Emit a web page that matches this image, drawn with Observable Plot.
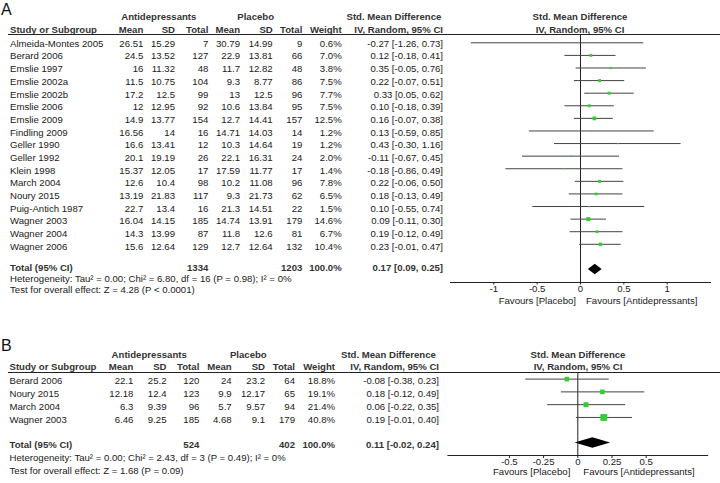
<!DOCTYPE html>
<html><head><meta charset="utf-8">
<script src="https://cdn.jsdelivr.net/npm/d3@7"></script>
<script src="https://cdn.jsdelivr.net/npm/@observablehq/plot@0.6"></script>
<style>
body{margin:0;background:#fff;}
#root{position:relative;width:720px;height:483px;overflow:hidden;font-family:"Liberation Sans",Arial,sans-serif;font-size:9.6px;color:#1a1a1a;background:#fff;}
.c{position:absolute;height:12px;line-height:12px;white-space:nowrap;}
.b{font-weight:bold;color:#333;}
.hline{position:absolute;height:1px;background:#222;}
.box{position:absolute;}
</style></head><body><div id="root"></div>
<script>
// ---------- Panel A data ----------
const studiesA = ["Almeida-Montes 2005","Berard 2006","Emslie 1997","Emslie 2002a","Emslie 2002b","Emslie 2006","Emslie 2009","Findling 2009","Geller 1990","Geller 1992","Klein 1998","March 2004","Noury 2015","Puig-Antich 1987","Wagner 2003","Wagner 2004","Wagner 2006"];
const antiMeanA = [26.51,24.5,16,11.5,17.2,12,14.9,16.56,16.6,20.1,15.37,12.6,13.19,22.7,16.04,14.3,15.6];
const antiSdA   = [15.29,13.52,11.32,10.75,12.5,12.95,13.77,14,13.41,19.19,12.05,10.4,21.83,13.4,14.15,13.99,12.64];
const antiNA    = [7,127,48,104,99,92,154,16,12,26,17,98,117,16,185,87,129];
const plaMeanA  = [30.79,22.9,11.7,9.3,13,10.6,12.7,14.71,10.3,22.1,17.59,10.2,9.3,21.3,14.74,11.8,12.7];
const plaSdA    = [14.99,13.81,12.82,8.77,12.5,13.84,14.41,14.03,14.64,16.31,11.77,11.08,21.73,14.51,13.91,12.6,12.64];
const plaNA     = [9,66,48,86,96,95,157,14,19,24,17,96,62,22,179,81,132];
const weightA   = [0.6,7.0,3.8,7.5,7.7,7.5,12.5,1.2,1.2,2.0,1.4,7.8,6.5,1.5,14.6,6.7,10.4];
const smdA      = [-0.27,0.12,0.35,0.22,0.33,0.10,0.16,0.13,0.43,-0.11,-0.18,0.22,0.18,0.10,0.09,0.19,0.23];
const loA       = [-1.26,-0.18,-0.05,-0.07,0.05,-0.18,-0.07,-0.59,-0.30,-0.67,-0.86,-0.06,-0.13,-0.55,-0.11,-0.12,-0.01];
const hiA       = [0.73,0.41,0.76,0.51,0.62,0.39,0.38,0.85,1.16,0.45,0.49,0.50,0.49,0.74,0.30,0.49,0.47];
const totalA    = [1334, 1203, 100.0, 0.17, 0.09, 0.25]; // nAnti, nPla, weight, smd, lo, hi
const hetA  = "Heterogeneity: Tau\u00B2 = 0.00; Chi\u00B2 = 6.80, df = 16 (P = 0.98); I\u00B2 = 0%";
const testA = "Test for overall effect: Z = 4.28 (P < 0.0001)";
const ticksA = [-1,-0.5,0,0.5,1];
const xDomainA = [-1.5,1.5];

// ---------- Panel B data ----------
const studiesB = ["Berard 2006","Noury 2015","March 2004","Wagner 2003"];
const antiMeanB = [22.1,12.18,6.3,6.46];
const antiSdB   = [25.2,12.4,9.39,9.25];
const antiNB    = [120,123,96,185];
const plaMeanB  = [24,9.9,5.7,4.68];
const plaSdB    = [23.2,12.17,9.57,9.1];
const plaNB     = [64,65,94,179];
const weightB   = [18.8,19.1,21.4,40.8];
const smdB      = [-0.08,0.18,0.06,0.19];
const loB       = [-0.38,-0.12,-0.22,-0.01];
const hiB       = [0.23,0.49,0.35,0.40];
const totalB    = [524, 402, 100.0, 0.11, -0.02, 0.24];
const hetB  = "Heterogeneity: Tau\u00B2 = 0.00; Chi\u00B2 = 2.43, df = 3 (P = 0.49); I\u00B2 = 0%";
const testB = "Test for overall effect: Z = 1.68 (P = 0.09)";
const ticksB = [-0.5,-0.25,0,0.25,0.5];
const xDomainB = [-0.95,0.95];

const headTop = ["Antidepressants","Placebo","Std. Mean Difference","Std. Mean Difference"];
const headCols = ["Study or Subgroup","Mean","SD","Total","Mean","SD","Total","Weight","IV, Random, 95% CI","IV, Random, 95% CI"];
const favours = ["Favours [Placebo]","Favours [Antidepressants]"];

// ---------- helpers ----------
const root = document.getElementById("root");
function cell(text, x, y, align, bold, size) {
  const d = document.createElement("div");
  d.className = "c" + (bold ? " b" : "");
  d.textContent = text;
  const w = 320;
  const left = align === "right" ? x - w : align === "center" ? x - w/2 : x;
  d.style.left = left + "px"; d.style.width = w + "px"; d.style.textAlign = align;
  if (size) { d.style.fontSize = size + "px"; d.style.height = "20px"; d.style.lineHeight = "20px"; d.style.top = (y - 10) + "px"; d.style.fontWeight = "normal"; d.style.color = "#111"; }
  else d.style.top = (y - 6) + "px";
  root.appendChild(d);
}
function hline(x1, x2, y) {
  const d = document.createElement("div");
  d.className = "hline";
  d.style.left = x1 + "px"; d.style.width = (x2 - x1) + "px"; d.style.top = y + "px";
  root.appendChild(d);
}
const fmtCI = (s, l, h) => `${s.toFixed(2)} [${l.toFixed(2)}, ${h.toFixed(2)}]`;

function drawPanel(P) {
  const L = P.layout;
  cell(P.label, L.labelX, L.labelY, "left", false, 16);
  cell(headTop[0], L.antiC, L.h1, "center", true);
  cell(headTop[1], L.plaC, L.h1, "center", true);
  cell(headTop[2], L.smdL, L.h1, "left", true);
  cell(headTop[3], L.forestC, L.h1, "center", true);
  cell(headCols[0], L.studyX, L.h2, "left", true);
  for (let k = 0; k < 7; k++) cell(headCols[k+1], L.cols[k], L.h2, "right", true);
  cell(headCols[8], L.smdR, L.h2, "right", true);
  cell(headCols[9], L.forestC, L.h2, "center", true);
  hline(L.lineX1, 720, L.uline);
  P.studies.forEach((s, i) => {
    const y = L.row0 + i * L.rowStep;
    const vals = [P.aM[i], P.aS[i], P.aN[i], P.pM[i], P.pS[i], P.pN[i], P.w[i].toFixed(1) + "%"];
    cell(s, L.studyX, y, "left", false);
    vals.forEach((v, k) => cell(String(v), L.cols[k], y, "right", false));
    cell(fmtCI(P.smd[i], P.lo[i], P.hi[i]), L.smdR, y, "right", false);
  });
  const T = P.total;
  cell("Total (95% CI)", L.studyX, L.totY, "left", true);
  cell(String(T[0]), L.cols[2], L.totY, "right", true);
  cell(String(T[1]), L.cols[5], L.totY, "right", true);
  cell(T[2].toFixed(1) + "%", L.cols[6], L.totY, "right", true);
  cell(fmtCI(T[3], T[4], T[5]), L.smdR, L.totY, "right", true);
  cell(P.het, L.studyX, L.hetY, "left", false);
  cell(P.test, L.studyX, L.testY, "left", false);

  // forest plot
  const F = P.forest;
  const rows = P.studies.map((s, i) => ({i, smd: P.smd[i], lo: P.lo[i], hi: P.hi[i], w: P.w[i]}));
  const ti = P.studies.length + 1;
  const h = 0.42;
  const diamond = [
    {x: T[4], y1: ti, y2: ti},
    {x: T[3], y1: ti - h, y2: ti + h},
    {x: T[5], y1: ti, y2: ti}
  ];
  const plot = Plot.plot({
    width: F.width, height: F.height,
    marginLeft: F.ml, marginRight: F.mr, marginTop: F.mt, marginBottom: F.mb,
    style: {fontFamily: '"Liberation Sans", Arial, sans-serif', fontSize: "9.6px", color: "#1a1a1a", background: "transparent", overflow: "visible"},
    x: {domain: P.xDomain},
    y: {domain: [0, ti], range: F.yRange, axis: null},
    r: {type: "sqrt", domain: [0, 100], range: [0, 6]},
    marks: [
      Plot.ruleX([0], {stroke: "#222", strokeWidth: 1}),
      Plot.frame({anchor: "bottom", stroke: "#222"}),
      Plot.axisX(P.ticks, {tickSize: F.tickSize, tickPadding: F.tickPad, tickFormat: d => String(d), label: null, stroke: "#222"}),
      Plot.ruleY(rows, {y: "i", x1: "lo", x2: "hi", stroke: "#444", strokeWidth: 1}),
      Plot.dot(rows, {x: "smd", y: "i", r: "w", symbol: "square", fill: "#33cc33", stroke: "none"}),
      Plot.areaY(diamond, {x: "x", y1: "y1", y2: "y2", fill: "#000", curve: "linear"}),
      Plot.text([0], {x: d => d, text: () => favours[0], frameAnchor: "bottom", dy: F.favDy, dx: F.favDx[0], textAnchor: "end"}),
      Plot.text([0], {x: d => d, text: () => favours[1], frameAnchor: "bottom", dy: F.favDy, dx: F.favDx[1], textAnchor: "start"})
    ]
  });
  const box = document.createElement("div");
  box.className = "box";
  box.style.left = F.left + "px"; box.style.top = F.top + "px";
  box.appendChild(plot);
  root.appendChild(box);
}

drawPanel({
  label: "A", studies: studiesA,
  aM: antiMeanA, aS: antiSdA, aN: antiNA, pM: plaMeanA, pS: plaSdA, pN: plaNA,
  w: weightA, smd: smdA, lo: loA, hi: hiA, total: totalA, het: hetA, test: testA,
  ticks: ticksA, xDomain: xDomainA,
  layout: {labelX: 1, labelY: 9.5, h1: 17.3, h2: 30.3, uline: 33.5, lineX1: 8,
    row0: 43.8, rowStep: 12.68, totY: 268.3, hetY: 279.4, testY: 290.2,
    studyX: 10, cols: [143.3,175,208.3,240,272.7,302.3,341.7], smdR: 443,
    antiC: 158.8, plaC: 255.7, smdL: 346.5, forestC: 580},
  forest: {left: 440, top: 0, width: 280, height: 310, ml: 10, mr: 10, mt: 34, mb: 28,
    yRange: [42.3, 269], favDy: 21, favDx: [-4.5, 5.5], tickSize: 2.5, tickPad: 0}
});

drawPanel({
  label: "B", studies: studiesB,
  aM: antiMeanB, aS: antiSdB, aN: antiNB, pM: plaMeanB, pS: plaSdB, pN: plaNB,
  w: weightB, smd: smdB, lo: loB, hi: hiB, total: totalB, het: hetB, test: testB,
  ticks: ticksB, xDomain: xDomainB,
  layout: {labelX: 1, labelY: 346, h1: 354.5, h2: 366.8, uline: 372.2, lineX1: 8,
    row0: 381.3, rowStep: 12.75, totY: 445.2, hetY: 457.5, testY: 470.8,
    studyX: 9.5, cols: [133.3,166.5,199.3,231.7,265,295,335], smdR: 439,
    antiC: 149.2, plaC: 248.3, smdL: 341, forestC: 578},
  forest: {left: 437, top: 340, width: 281, height: 143, ml: 10.4, mr: 10.8, mt: 33, mb: 28,
    yRange: [38.6, 102.5], favDy: 19.5, favDx: [-7.5, 5.5], tickSize: 3, tickPad: 0}
});
</script>
</body></html>
